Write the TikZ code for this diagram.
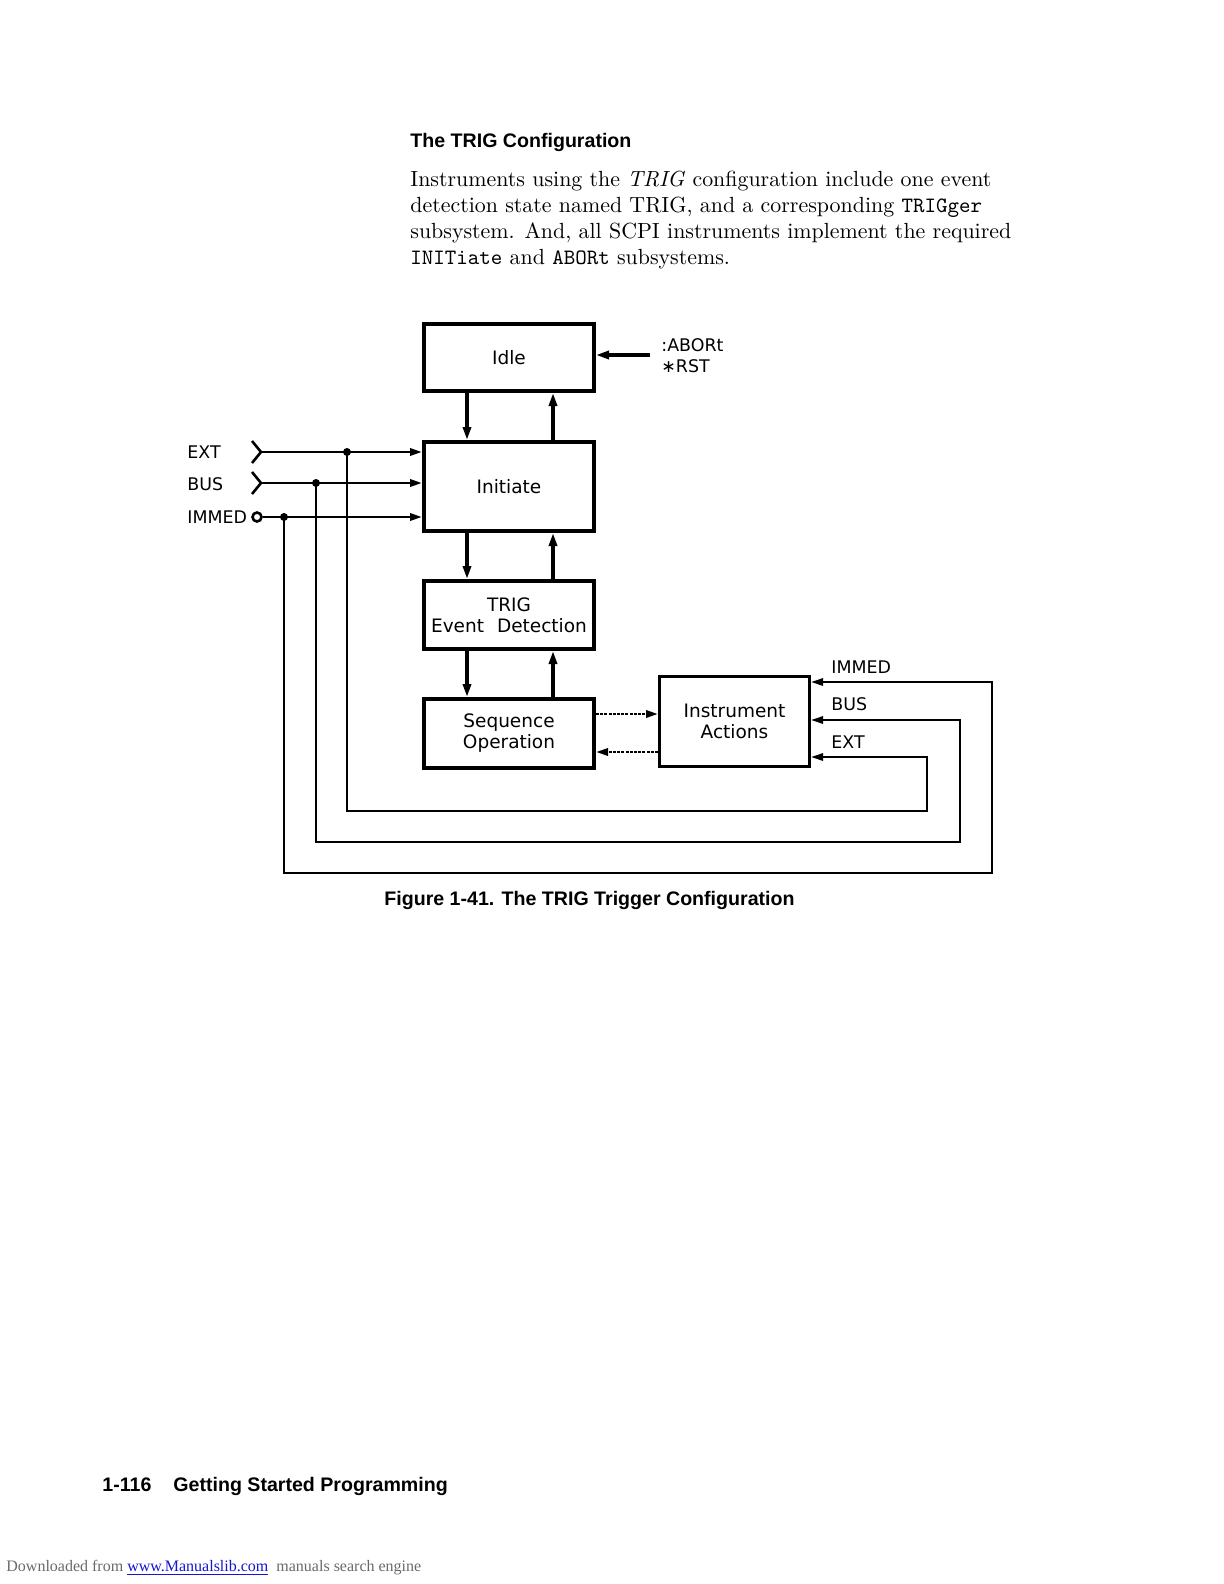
\documentclass[tikz,border=0pt]{standalone}
\usepackage{fontspec}
\usepackage{tikz}
\usetikzlibrary{arrows.meta,positioning}
\newfontfamily\hpfont{DejaVu Sans}
\newfontfamily\headfont{Liberation Sans}
\newfontfamily\dlfont{Liberation Serif}
\definecolor{dlgray}{RGB}{105,105,105}
\definecolor{linkblue}{RGB}{20,20,210}
\newcommand{\lbl}{\hpfont\fontsize{9.25}{10.5}\selectfont}
\newcommand{\caps}{\hpfont\fontsize{8.7}{10.5}\selectfont}
\newcommand{\head}{\headfont\bfseries\fontsize{9.8}{12}\selectfont}
\tikzset{
  stage/.style={draw,line width=2pt,minimum width=85pt,align=center,inner sep=0pt,font=\lbl},
  action/.style={stage,line width=1.5pt,minimum width=75pt,minimum height=45pt},
  arr/.style={-{Triangle[length=6.5pt,width=4pt]},line width=1.6pt},
  sig/.style={-{Triangle[length=6pt,width=3.6pt]},line width=1.3pt},
  ret/.style={-{Triangle[length=6pt,width=3.6pt]},line width=1.1pt},
  hand/.style={-{Triangle[length=6pt,width=3.6pt]},line width=1.3pt,dash pattern=on 1.5pt off 0.6pt},
  pin/.style={line width=1.3pt},
  tag/.style={anchor=base west,inner sep=0pt,font=\caps},
  dot/.style={circle,fill,inner sep=0pt,minimum size=4pt},
  body/.style={anchor=base west,inner sep=0pt,font=\fontsize{10.95}{13}\selectfont},
  heading/.style={anchor=base west,inner sep=0pt,font=\head}
}

\begin{document}
\begin{tikzpicture}[x=0.5pt,y=-0.5pt]
  \useasboundingbox (0,0) rectangle (1224,1584);

  % page text
  \node[heading] (title) at (410,148) {The TRIG Configuration};
  \node[body] (line1) at (410,186) {Instruments using the \textit{TRIG} configuration include one event};
  \node[body] (line2) at (410,212) {detection state named TRIG, and a corresponding \texttt{TRIGger}};
  \node[body] (line3) at (410,238) {subsystem.  And, all SCPI instruments implement the required};
  \node[body] (line4) at (410,264) {\texttt{INITiate} and \texttt{ABORt} subsystems.};

  % state stack
  \node[stage,minimum height=33.5pt] (idle) at (509,357.5) {Idle};
  \node[stage,minimum height=44.5pt,below=23.5pt of idle] (init) {Initiate};
  \node[stage,minimum height=34pt,below=23pt of init] (trig) {TRIG\\Event\hspace{0.7em}Detection};
  \node[stage,minimum height=34.5pt,below=23pt of trig] (seq) {Sequence\\Operation};
  \node[action] (act) at (734.5,721.5) {Instrument\\Actions};

  \draw[arr] ([xshift=-21pt]idle.south) -- ([xshift=-21pt]init.north);
  \draw[arr] ([xshift=22pt]init.north) -- ([xshift=22pt]idle.south);
  \draw[arr] ([xshift=-21pt]init.south) -- ([xshift=-21pt]trig.north);
  \draw[arr] ([xshift=22pt]trig.north) -- ([xshift=22pt]init.south);
  \draw[arr] ([xshift=-21pt]trig.south) -- ([xshift=-21pt]seq.north);
  \draw[arr] ([xshift=22pt]seq.north) -- ([xshift=22pt]trig.south);

  % abort / reset
  \coordinate (abortsrc) at (650,355);
  \draw[arr] (abortsrc) -- (abortsrc -| idle.east);
  \node[tag] (abortlbl) at (661,351) {:ABORt};
  \node[tag] (rstlbl) at (661,372) {∗RST};

  % trigger inputs
  \node[tag] (extname) at (187,458) {EXT};
  \node[tag] (busname) at (187,490) {BUS};
  \node[tag] (immname) at (187,523) {IMMED};
  \coordinate (extin) at (261,452);
  \coordinate (busin) at (261,483);
  \node[circle,draw,pin,minimum size=4.5pt,inner sep=0pt] (immpin) at (257,517) {};
  \draw[pin] ([shift={(-9,-11)}]extin) -- (extin) -- ([shift={(-9,11)}]extin);
  \draw[pin] ([shift={(-9,-11)}]busin) -- (busin) -- ([shift={(-9,11)}]busin);
  \draw[sig] (extin) -- (extin -| init.west);
  \draw[sig] (busin) -- (busin -| init.west);
  \draw[sig] (immpin.east) -- (immpin.east -| init.west);
  \node[dot] (extdot) at (347,452) {};
  \node[dot] (busdot) at (316,483) {};
  \node[dot] (immdot) at (284,517) {};

  % return paths into the actions box
  \coordinate (extturn) at (927,811);
  \coordinate (busturn) at (960,842);
  \coordinate (immturn) at (992,873);
  \coordinate (extback) at (927,757);
  \coordinate (busback) at (960,720);
  \coordinate (immback) at (992,682);
  \draw[ret] (extdot.center) |- (extturn) -- (extback) -- (extback -| act.east);
  \draw[ret] (busdot.center) |- (busturn) -- (busback) -- (busback -| act.east);
  \draw[ret] (immdot.center) |- (immturn) -- (immback) -- (immback -| act.east);
  \node[tag] (immlbl) at (831,673) {IMMED};
  \node[tag] (buslbl) at (831,710.5) {BUS};
  \node[tag] (extlbl) at (831,748) {EXT};

  % handshake
  \draw[hand] ([yshift=9.75pt]seq.east) -- ([yshift=9.75pt]seq.east -| act.west);
  \draw[hand] ([yshift=-9.25pt]seq.east -| act.west) -- ([yshift=-9.25pt]seq.east);

  \node[heading] (caption) at (384,905) {Figure 1-41. The TRIG Trigger Configuration};
  \node[heading] (pageno) at (102,1491) {1-116};
  \node[heading] (runhead) at (173,1491) {Getting Started Programming};
  \node[anchor=base west,inner sep=0pt,font=\dlfont\fontsize{8}{9.6}\selectfont,text=dlgray] (dl) at (6,1571)
    {Downloaded from \textcolor{linkblue}{\underline{www.Manualslib.com}}\ \ manuals search engine};
\end{tikzpicture}
\end{document}
